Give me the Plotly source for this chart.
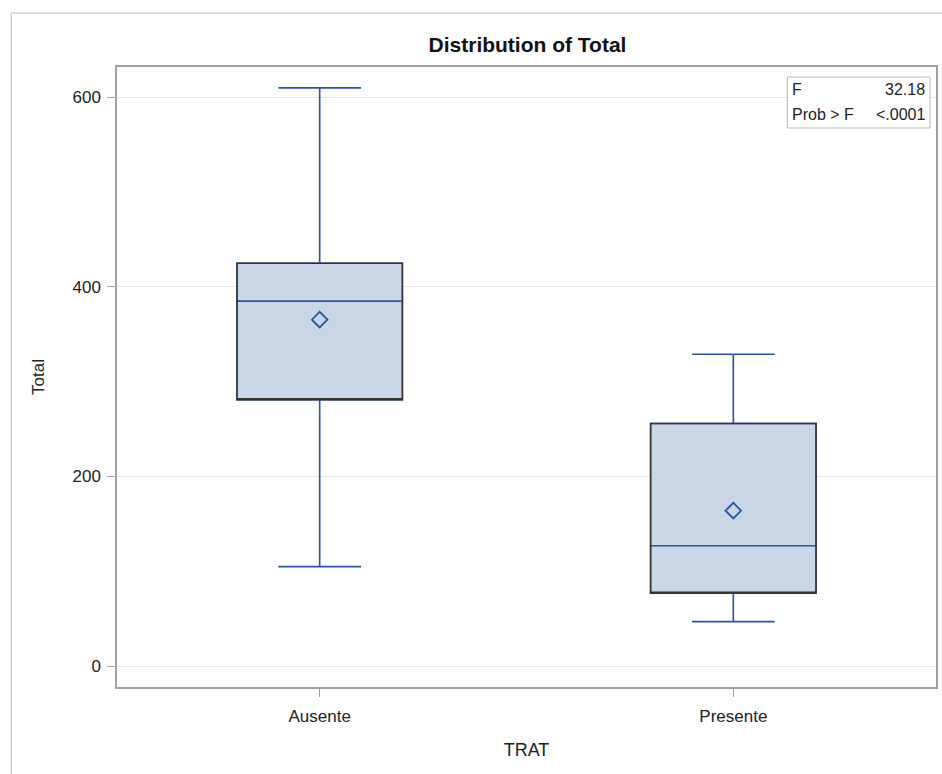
import plotly.graph_objects as go

categories = ["Ausente", "Presente"]
q1 = [281, 77]
median = [385, 127]
q3 = [425, 256]
lower_whisker = [105, 47]
upper_whisker = [610, 329]
means = [365.5, 164]
stat_labels = ["F", "Prob > F"]
stat_values = ["32.18", "<.0001"]

BLUE = "#2A52A8"
FILL = "#CAD5E6"
FONT = "Liberation Sans, Arial, sans-serif"

fig = go.Figure()
# whiskers + median (blue) with filled box
fig.add_trace(go.Box(
    x=categories, q1=q1, median=median, q3=q3,
    lowerfence=lower_whisker, upperfence=upper_whisker,
    fillcolor=FILL, line=dict(color=BLUE, width=1.6),
    width=0.4, whiskerwidth=0.5, boxpoints=False, hoverinfo="skip",
    showlegend=False,
))
# dark outline of the box
fig.add_trace(go.Box(
    x=categories, q1=q1, median=q1, q3=q3,
    lowerfence=q1, upperfence=q3,
    fillcolor="rgba(0,0,0,0)", line=dict(color="#333333", width=1.4),
    width=0.4, whiskerwidth=0, boxpoints=False, hoverinfo="skip",
    showlegend=False,
))
# mean markers
fig.add_trace(go.Scatter(
    x=categories, y=means, mode="markers",
    marker=dict(symbol="diamond-open", size=12, color=BLUE, line=dict(width=1.8, color=BLUE)),
    showlegend=False, hoverinfo="skip",
))

L, R, T, B = 117, 4, 67, 87
W, H = 942, 774
pw, ph = W - L - R, H - T - B

def py(pix):
    return 1 - (pix - T) / ph

def px(pix):
    return (pix - L) / pw

shapes = [
    # outer border
    dict(type="rect", xref="paper", yref="paper",
         x0=px(11), x1=px(W + 5), y0=-(B + 5) / ph, y1=py(13),
         line=dict(color="#cfcfcf", width=1.5), fillcolor="rgba(0,0,0,0)", layer="below"),
    # statistics inset box
    dict(type="rect", xref="paper", yref="paper",
         x0=px(789), x1=px(932), y0=py(128), y1=py(77),
         line=dict(color="#b8b8b8", width=1), fillcolor="white"),
]

annotations = []
row_centers = [89, 114]
for lab, val, yc in zip(stat_labels, stat_values, row_centers):
    annotations.append(dict(xref="paper", yref="paper", x=px(792), y=py(yc),
                            xanchor="left", yanchor="middle", showarrow=False,
                            text=lab, font=dict(family=FONT, size=16, color="#222")))
    annotations.append(dict(xref="paper", yref="paper", x=px(929), y=py(yc),
                            xanchor="right", yanchor="middle", showarrow=False,
                            text=val, font=dict(family=FONT, size=16, color="#222")))

fig.update_layout(
    width=W, height=H,
    margin=dict(l=L, r=R, t=T, b=B),
    paper_bgcolor="white", plot_bgcolor="white",
    boxmode="overlay",
    title=dict(text="<b>Distribution of Total</b>", x=(L + pw / 2) / W, xanchor="center",
               y=1 - 45 / H, yanchor="middle",
               font=dict(family=FONT, size=21, color="#111")),
    font=dict(family=FONT, size=17, color="#222"),
    shapes=shapes, annotations=annotations,
)
fig.update_xaxes(
    type="category", range=[-0.49, 1.49],
    showline=True, mirror=True, linecolor="#a0a0a0", linewidth=1.5,
    ticks="outside", ticklen=8, tickcolor="#a0a0a0",
    showgrid=False, zeroline=False, ticklabelstandoff=5,
    title=dict(text="TRAT", font=dict(family=FONT, size=18, color="#222"), standoff=18),
    tickfont=dict(family=FONT, size=17, color="#222"),
)
fig.update_yaxes(
    range=[-22, 632], tickvals=[0, 200, 400, 600],
    showline=True, mirror=True, linecolor="#a0a0a0", linewidth=1.5,
    ticks="outside", ticklen=8, tickcolor="#a0a0a0",
    showgrid=True, gridcolor="#e6e6e6", gridwidth=1, zeroline=False, ticklabelstandoff=3,
    title=dict(text="Total", font=dict(family=FONT, size=17, color="#222"), standoff=24),
    tickfont=dict(family=FONT, size=17, color="#222"),
)

fig.write_html("out.html", config={"displayModeBar": False},
               post_script="document.body.style.margin='0';document.body.style.overflow='hidden';")
